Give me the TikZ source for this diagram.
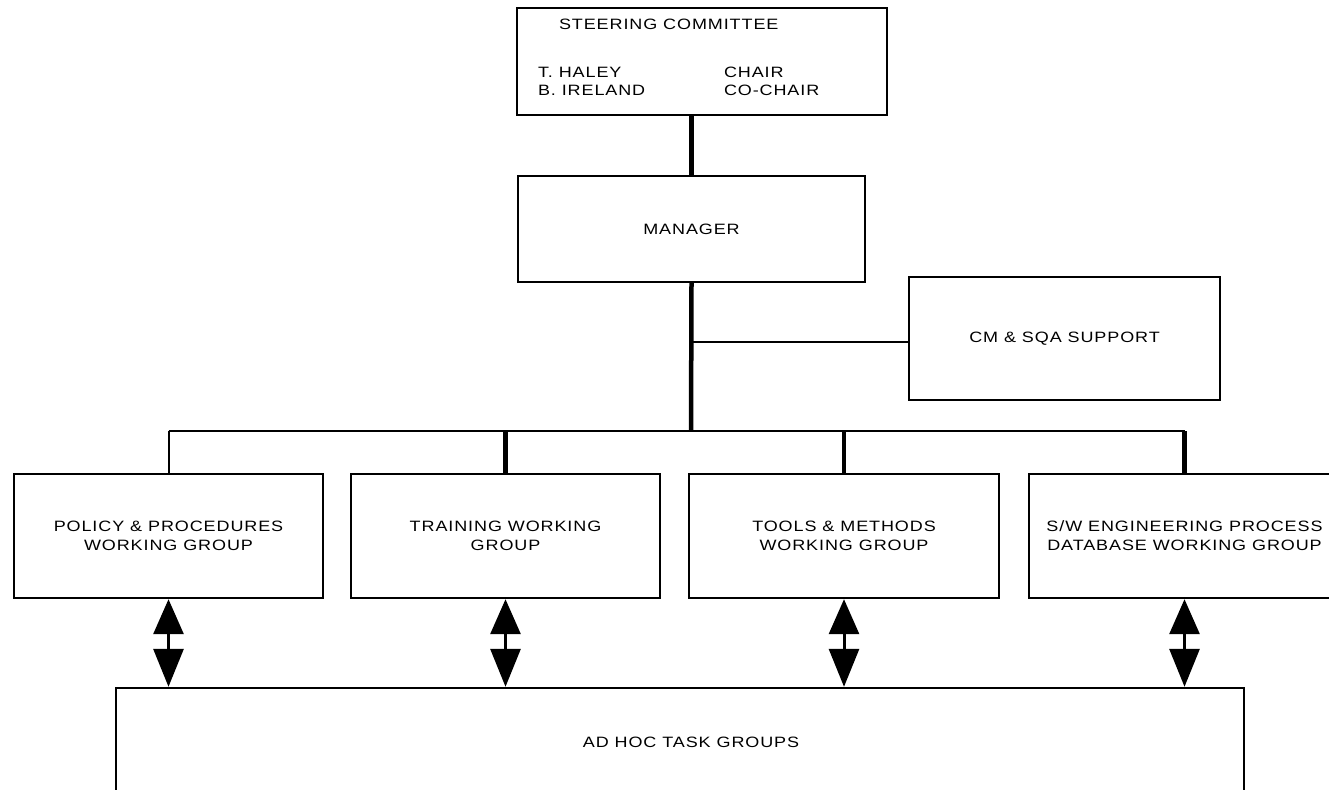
\documentclass[tikz,border=0pt]{standalone}
\usepackage{fontspec}
\setmainfont[LetterSpace=6,FakeStretch=1.2]{Liberation Sans}
\usetikzlibrary{arrows.meta}

\begin{document}
\begin{tikzpicture}[x=1pt,y=-1pt,line width=2pt]
    \tikzstyle{box}=[draw=black, rectangle, line width=2.4pt, fill=none, inner sep=0pt, align=center, font=\fontsize{15}{19}\selectfont]
    \tikzstyle{label}=[inner sep=0pt, anchor=west, font=\fontsize{15}{19}\selectfont]
    \tikzstyle{thin}=[line width=2pt]
    \tikzstyle{thick}=[line width=4.5pt]
    \tikzstyle{link}=[line width=3pt, {Triangle[length=35pt,width=30pt]}-{Triangle[length=38pt,width=30pt]}]

    \useasboundingbox (0,0) rectangle (1329,789);

    \node[box, minimum width=370, minimum height=107] (steer) at (702,61.5)  {};
    \node[label] (title) at (558,24)  {STEERING COMMITTEE};
    \node[label] (n1)    at (537,72)  {T. HALEY};
    \node[label] (n2)    at (537,90)  {B. IRELAND};
    \node[label] (r1)    at (723,72)  {CHAIR};
    \node[label] (r2)    at (723,90)  {CO-CHAIR};
    \node[box, minimum width=347, minimum height=106] (mgr)  at (691.5,229) {MANAGER};
    \node[box, minimum width=311, minimum height=123] (cm)   at (1064.5,338.5) {CM \& SQA SUPPORT};

    \node[box, minimum width=309, minimum height=124] (g1) at (168.5,536)  {POLICY \& PROCEDURES\\WORKING GROUP};
    \node[box, minimum width=309, minimum height=124] (g2) at (505.5,536)  {TRAINING WORKING\\GROUP};
    \node[box, minimum width=310, minimum height=124] (g3) at (844,536)    {TOOLS \& METHODS\\WORKING GROUP};
    \node[box, minimum width=311, minimum height=124] (g4) at (1184.5,536) {S/W ENGINEERING PROCESS\\DATABASE WORKING GROUP};
    \node[box, minimum width=1128, minimum height=110] (task) at (680,743) {};
    \node[inner sep=0pt, font=\fontsize{15}{19}\selectfont] (tasklabel) at (691,742) {AD HOC TASK GROUPS};

    \coordinate (bus)  at (691,431);
    \coordinate (join) at (691,342);

    \draw[thick] (mgr.north |- steer.south) -- (mgr.north);
    \draw[thick] (mgr.south) -- (bus);
    \draw[thin]  (join) -- (join -| cm.west);
    \draw[thin]  (bus -| g1.north) -- (bus -| g4.north);
    \draw[thin]  (bus -| g1.north) -- (g1.north);
    \draw[thick] (bus -| g2.north) -- (g2.north);
    \draw[thick] (bus -| g3.north) -- (g3.north);
    \draw[thick] (bus -| g4.north) -- (g4.north);

    \draw[link] (g1.south) -- (g1.south |- task.north);
    \draw[link] (g2.south) -- (g2.south |- task.north);
    \draw[link] (g3.south) -- (g3.south |- task.north);
    \draw[link] (g4.south) -- (g4.south |- task.north);
\end{tikzpicture}
\end{document}
